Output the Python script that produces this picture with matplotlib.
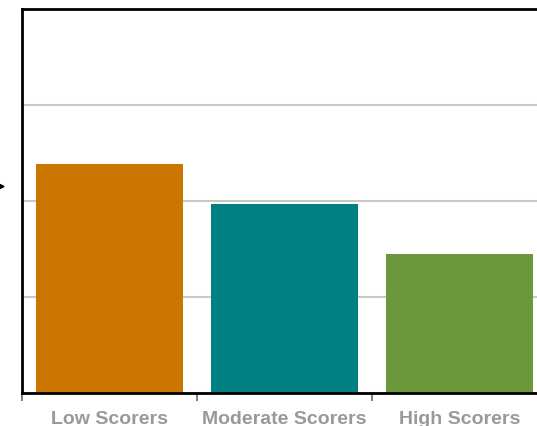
import matplotlib
matplotlib.use("Agg")
import matplotlib.pyplot as plt

# Data
categories = ["Low Scorers", "Moderate Scorers", "High Scorers"]
values = [23.8, 19.7, 14.5]
bar_colors = ["#C97500", "#008080", "#6A983B"]
y_ticks = [0, 10, 20, 30, 40]

W, H = 537, 427
fig = plt.figure(figsize=(W / 100, H / 100), dpi=100)

# Plot area runs off the right edge of the canvas
left, right = 22 / W, 547 / W
bottom, top = (H - 394) / H, (H - 9.5) / H
ax = fig.add_axes([left, bottom, right - left, top - bottom])

x = list(range(len(categories)))
ax.bar(x, values, width=0.84, color=bar_colors, zorder=2)

ax.set_xlim(-0.5, len(categories) - 0.5)
ax.set_ylim(0, 40)
ax.set_yticks(y_ticks)
ax.yaxis.grid(True, color="#c8c8c8", linewidth=1.5, zorder=0)
ax.set_axisbelow(True)
ax.tick_params(axis="y", length=0, labelleft=False)

# Category boundaries carry tick marks; labels sit at the centres
ax.set_xticks([i - 0.5 for i in range(len(categories) + 1)])
ax.set_xticklabels([])
ax.tick_params(axis="x", which="major", length=6, width=1.2, color="#666666")
ax.set_xticks(x, minor=True)
ax.set_xticklabels(categories, minor=True, fontsize=14, fontweight="bold",
                   color="#999999", family="Liberation Sans")
ax.tick_params(axis="x", which="minor", length=0, pad=12)

for side in ["left", "bottom", "top"]:
    ax.spines[side].set_color("black")
    ax.spines[side].set_linewidth(2)
ax.spines["right"].set_visible(False)

# Pointer arrow entering from the left margin
fig.patches.append(plt.Polygon(
    [[-2 / W, 1 - 184.5 / H], [4 / W, 1 - 187.5 / H], [-2 / W, 1 - 190.5 / H]],
    closed=True, transform=fig.transFigure, color="black"))

fig.savefig("out.png", dpi=100)
